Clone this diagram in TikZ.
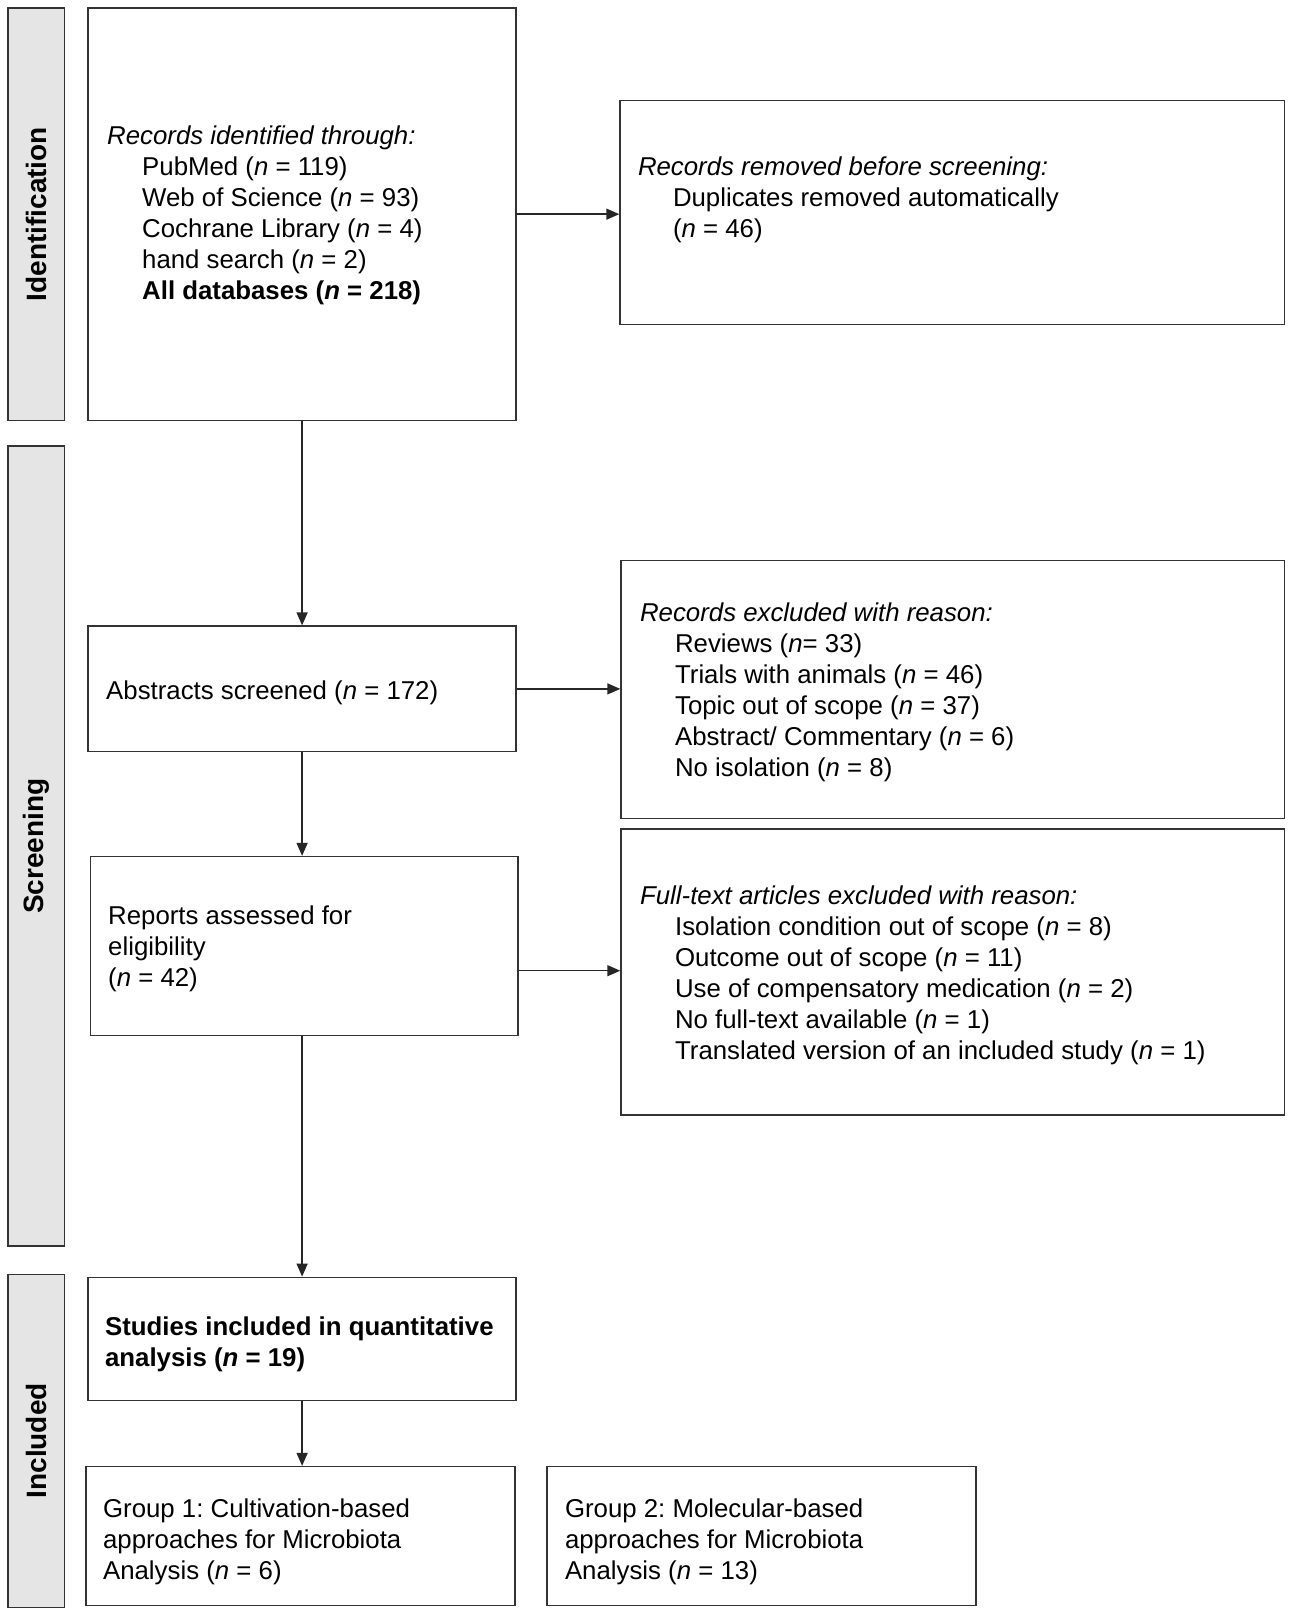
\documentclass[tikz,border=0pt]{standalone}
\usepackage{fontspec}
\setmainfont{Liberation Sans}
\usetikzlibrary{arrows.meta}
\tikzset{
  box/.style={draw=black!80, line width=1.4pt, rectangle, inner sep=0pt, anchor=north west},
  lab/.style={draw=black!80, line width=1.4pt, fill=black!10, rectangle, inner sep=0pt, anchor=north west},
  txt/.style={anchor=west, align=left, inner sep=0pt, font=\fontsize{25.8}{31}\selectfont},
  labtxt/.style={rotate=90, inner sep=0pt, font=\fontsize{28}{32}\selectfont\bfseries},
  arr/.style={-{Triangle[length=13pt,width=11pt]}, line width=1.4pt, draw=black!85},
}
\newcommand{\ind}{\hspace*{35pt}}
\frenchspacing
\begin{document}
\begin{tikzpicture}[x=1pt,y=-1pt]
\useasboundingbox (0,0) rectangle (1292,1616);
% phase labels
\node[lab, minimum width=56.6pt, minimum height=412.5pt] (IDL) at (7.2,7.2) {};
\node[labtxt] (IDLt) at (IDL.center) {Identification};
\node[lab, minimum width=56.6pt, minimum height=800pt] (SCL) at (7.2,445.4) {};
\node[labtxt] (SCLt) at (SCL.center) {Screening};
\node[lab, minimum width=56.6pt, minimum height=333.3pt] (INL) at (7.2,1273.5) {};
\node[labtxt] (INLt) at (INL.center) {Included};
% boxes
\node[box, minimum width=428pt, minimum height=412.5pt] (A) at (87.4,7.2) {};
\node[box, minimum width=664.5pt, minimum height=224.2pt] (B) at (619.3,99.8) {};
\node[box, minimum width=428pt, minimum height=125.6pt] (C) at (87.4,625.4) {};
\node[box, minimum width=663.5pt, minimum height=258.2pt] (D) at (620.3,559.6) {};
\node[box, minimum width=427.9pt, minimum height=179pt] (E) at (89.5,855.9) {};
\node[box, minimum width=663.5pt, minimum height=286pt] (F) at (620.3,828.1) {};
\node[box, minimum width=428pt, minimum height=123.4pt] (G) at (87.4,1276.6) {};
\node[box, minimum width=429pt, minimum height=138.9pt] (H) at (85.4,1465.9) {};
\node[box, minimum width=429pt, minimum height=138.9pt] (I) at (546.2,1465.9) {};
% texts
\node[txt] (At) at (107,215.8) {\textit{Records identified through:}\\
\ind PubMed (\textit{n} = 119)\\
\ind Web of Science (\textit{n} = 93)\\
\ind Cochrane Library (\textit{n} = 4)\\
\ind hand search (\textit{n} = 2)\\
\ind\textbf{All databases (\textit{n} = 218)}};
\node[txt] (Bt) at (637.8,200) {\textit{Records removed before screening:}\\
\ind Duplicates removed automatically\\
\ind (\textit{n} = 46)};
\node[txt] (Ct) at (106,692.4) {Abstracts screened (\textit{n} = 172)};
\node[txt] (Dt) at (639.9,692.4) {\textit{Records excluded with reason:}\\
\ind Reviews (\textit{n}= 33)\\
\ind Trials with animals (\textit{n} = 46)\\
\ind Topic out of scope (\textit{n} = 37)\\
\ind Abstract/ Commentary (\textit{n} = 6)\\
\ind No isolation (\textit{n} = 8)};
\node[txt] (Et) at (108,949) {Reports assessed for\\ eligibility\\ (\textit{n} = 42)};
\node[txt] (Ft) at (639.9,975.3) {\textit{Full-text articles excluded with reason:}\\
\ind Isolation condition out of scope (\textit{n} = 8)\\
\ind Outcome out of scope (\textit{n} = 11)\\
\ind Use of compensatory medication (\textit{n} = 2)\\
\ind No full-text available (\textit{n} = 1)\\
\ind Translated version of an included study (\textit{n} = 1)};
\node[txt, font=\fontsize{25.8}{31}\selectfont\bfseries] (Gt) at (104.9,1344.5) {Studies included in quantitative\\ analysis (\textit{n} = 19)};
\node[txt] (Ht) at (102.9,1541.8) {Group 1: Cultivation-based\\ approaches for Microbiota\\ Analysis (\textit{n} = 6)};
\node[txt] (It) at (564.8,1541.8) {Group 2: Molecular-based\\ approaches for Microbiota\\ Analysis (\textit{n} = 13)};
% connectors
\draw[arr] (A.east) -- (A.east -| B.west);
\draw[arr] (A.south) -- (C.north);
\draw[arr] (C.east) -- (C.east -| D.west);
\draw[arr] (C.south) -- (C.south |- E.north);
\draw[arr] ([yshift=-24.6pt]E.east) -- ([yshift=-24.6pt]E.east -| F.west);
\draw[arr] (G.north |- E.south) -- (G.north);
\draw[arr] (G.south) -- (G.south |- H.north);
\end{tikzpicture}
\end{document}
